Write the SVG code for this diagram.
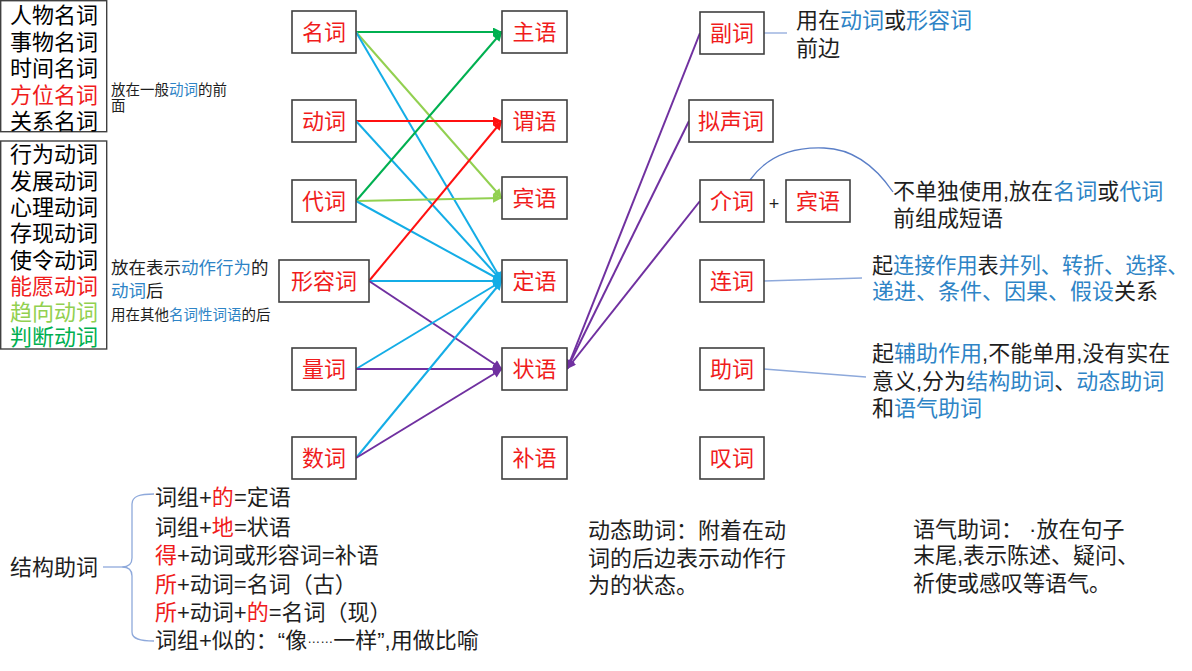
<svg xmlns="http://www.w3.org/2000/svg" width="1192" height="671" viewBox="0 0 1192 671">
<defs>
<style>
text{font-family:"Liberation Sans","Noto Sans CJK SC",sans-serif;fill:#1e1e1e}
.box{fill:#fff;stroke:#404040;stroke-width:1.6}
.lst{fill:#fff;stroke:#404040;stroke-width:1.4}
.lbl{font-size:22px;fill:#f01c1c;text-anchor:middle}
.t22{font-size:22px}
.t14{font-size:14.5px}
.t17{font-size:17.5px}
.b{fill:#2e84c6}
.r{fill:#f01c1c}
.lg{fill:#92d050}
.g{fill:#00b050}
.k{fill:#000}
.cg{stroke:#00b050}
.clg{stroke:#92d050}
.cc{stroke:#14ade6}
.cr{stroke:#ff1010}
.cp{stroke:#7030a0}
.thin{fill:none;stroke:#8ea9db;stroke-width:1.3}
</style>
<marker id="ag" viewBox="0 0 10 10" refX="10" refY="5" markerUnits="userSpaceOnUse" markerWidth="11" markerHeight="9" orient="auto"><path d="M0,0 L10,5 L0,10 z" fill="#00b050"/></marker>
<marker id="alg" viewBox="0 0 10 10" refX="10" refY="5" markerUnits="userSpaceOnUse" markerWidth="11" markerHeight="9" orient="auto"><path d="M0,0 L10,5 L0,10 z" fill="#92d050"/></marker>
<marker id="ac" viewBox="0 0 10 10" refX="10" refY="5" markerUnits="userSpaceOnUse" markerWidth="11" markerHeight="9" orient="auto"><path d="M0,0 L10,5 L0,10 z" fill="#14ade6"/></marker>
<marker id="ar" viewBox="0 0 10 10" refX="10" refY="5" markerUnits="userSpaceOnUse" markerWidth="11" markerHeight="9" orient="auto"><path d="M0,0 L10,5 L0,10 z" fill="#ff1010"/></marker>
<marker id="ap" viewBox="0 0 10 10" refX="10" refY="5" markerUnits="userSpaceOnUse" markerWidth="11" markerHeight="9" orient="auto"><path d="M0,0 L10,5 L0,10 z" fill="#7030a0"/></marker>
</defs>
<rect x="0" y="0" width="1192" height="671" fill="#fff"/>

<g id="list-nouns">
<rect class="lst" x="0.7" y="0.7" width="106" height="131"/>
<text class="t22" x="10" y="23"><tspan class="k">人物名词</tspan></text>
<text class="t22" x="10" y="49.5"><tspan class="k">事物名词</tspan></text>
<text class="t22" x="10" y="76"><tspan class="k">时间名词</tspan></text>
<text class="t22 r" x="10" y="102.5">方位名词</text>
<text class="t22" x="10" y="129"><tspan class="k">关系名词</tspan></text>
</g>
<g id="list-verbs">
<rect class="lst" x="0.7" y="141" width="106" height="208"/>
<text class="t22" x="10" y="162"><tspan class="k">行为动词</tspan></text>
<text class="t22" x="10" y="188.5"><tspan class="k">发展动词</tspan></text>
<text class="t22" x="10" y="215"><tspan class="k">心理动词</tspan></text>
<text class="t22" x="10" y="241"><tspan class="k">存现动词</tspan></text>
<text class="t22" x="10" y="267.5"><tspan class="k">使令动词</tspan></text>
<text class="t22 r" x="10" y="294">能愿动词</text>
<text class="t22 lg" x="10" y="320">趋向动词</text>
<text class="t22 g" x="10" y="345">判断动词</text>
</g>
<g id="note-fangwei">
<text class="t14" x="111" y="94.5">放在一般<tspan class="b">动词</tspan>的前</text>
<text class="t14" x="111" y="111">面</text>
</g>
<g id="note-nengyuan">
<text class="t17" x="111" y="274">放在表示<tspan class="b">动作行为</tspan>的</text>
<text class="t17" x="111" y="297"><tspan class="b">动词</tspan>后</text>
</g>
<g id="note-quxiang">
<text class="t14" x="111" y="320">用在其他<tspan class="b">名词性词语</tspan>的后</text>
</g>

<g id="connectors" fill="none" stroke-width="2">
<line class="cg" x1="356" y1="32" x2="502" y2="32" marker-end="url(#ag)"/>
<line class="clg" x1="356" y1="32" x2="502" y2="198" marker-end="url(#alg)"/>
<line class="cc" x1="356" y1="32" x2="502" y2="281" marker-end="url(#ac)"/>
<line class="cr" x1="356" y1="121" x2="502" y2="121" marker-end="url(#ar)"/>
<line class="cc" x1="356" y1="121" x2="502" y2="281" marker-end="url(#ac)"/>
<line class="cg" x1="356" y1="201" x2="502" y2="32" marker-end="url(#ag)"/>
<line class="clg" x1="356" y1="201" x2="502" y2="198" marker-end="url(#alg)"/>
<line class="cc" x1="356" y1="201" x2="502" y2="281" marker-end="url(#ac)"/>
<line class="cr" x1="369" y1="281" x2="502" y2="121" marker-end="url(#ar)"/>
<line class="cc" x1="369" y1="281" x2="502" y2="281" marker-end="url(#ac)"/>
<line class="cp" x1="369" y1="281" x2="502" y2="369" marker-end="url(#ap)"/>
<line class="cc" x1="356" y1="369" x2="502" y2="281" marker-end="url(#ac)"/>
<line class="cp" x1="356" y1="369" x2="502" y2="369" marker-end="url(#ap)"/>
<line class="cc" x1="356" y1="458" x2="502" y2="281" marker-end="url(#ac)"/>
<line class="cp" x1="356" y1="458" x2="502" y2="369" marker-end="url(#ap)"/>
<line class="cp" x1="700" y1="33" x2="567" y2="369" marker-end="url(#ap)"/>
<line class="cp" x1="689" y1="121" x2="567" y2="369" marker-end="url(#ap)"/>
<line class="cp" x1="700" y1="201" x2="567" y2="369" marker-end="url(#ap)"/>
<line class="thin" x1="764" y1="33" x2="787" y2="33"/>
<path d="M750,180 C770,152 800,147 824,148 C855,149 878,170 893,192" fill="none" stroke="#5b7fc7" stroke-width="1.3"/>
<line class="thin" x1="764" y1="281" x2="862" y2="278"/>
<line class="thin" x1="764" y1="369" x2="866" y2="377"/>
<path class="thin" d="M154,494 C140,494 132,496 132,504 L132,558 C132,565 128,567 122,567 C128,567 132,569 132,576 L132,632 C132,639 140,641 154,641"/>
<line class="thin" x1="103" y1="567" x2="122" y2="567"/>
</g>

<g id="n-mingci"><rect class="box" x="292" y="11" width="64" height="42"/><text class="lbl" x="324" y="40">名词</text></g>
<g id="n-dongci"><rect class="box" x="292" y="100" width="64" height="42"/><text class="lbl" x="324" y="129">动词</text></g>
<g id="n-daici"><rect class="box" x="292" y="180" width="64" height="42"/><text class="lbl" x="324" y="209">代词</text></g>
<g id="n-xingrongci"><rect class="box" x="279" y="260" width="90" height="42"/><text class="lbl" x="324" y="289">形容词</text></g>
<g id="n-liangci"><rect class="box" x="292" y="348" width="64" height="42"/><text class="lbl" x="324" y="377">量词</text></g>
<g id="n-shuci"><rect class="box" x="292" y="437" width="64" height="42"/><text class="lbl" x="324" y="466">数词</text></g>

<g id="n-zhuyu"><rect class="box" x="502" y="11" width="65" height="42"/><text class="lbl" x="534.5" y="40">主语</text></g>
<g id="n-weiyu"><rect class="box" x="502" y="100" width="65" height="42"/><text class="lbl" x="534.5" y="129">谓语</text></g>
<g id="n-binyu"><rect class="box" x="502" y="177" width="65" height="42"/><text class="lbl" x="534.5" y="206">宾语</text></g>
<g id="n-dingyu"><rect class="box" x="502" y="260" width="65" height="42"/><text class="lbl" x="534.5" y="289">定语</text></g>
<g id="n-zhuangyu"><rect class="box" x="502" y="348" width="65" height="42"/><text class="lbl" x="534.5" y="377">状语</text></g>
<g id="n-buyu"><rect class="box" x="502" y="437" width="65" height="42"/><text class="lbl" x="534.5" y="466">补语</text></g>

<g id="n-fuci"><rect class="box" x="700" y="12" width="64" height="42"/><text class="lbl" x="732" y="41">副词</text></g>
<g id="n-nishengci"><rect class="box" x="689" y="100" width="84" height="42"/><text class="lbl" x="731" y="129">拟声词</text></g>
<g id="n-jieci"><rect class="box" x="700" y="180" width="64" height="42"/><text class="lbl" x="732" y="209">介词</text></g>
<g id="plus"><text x="774" y="210" font-size="18" text-anchor="middle" fill="#444">+</text></g>
<g id="n-binyu2"><rect class="box" x="786" y="180" width="64" height="42"/><text class="lbl" x="818" y="209">宾语</text></g>
<g id="n-lianci"><rect class="box" x="700" y="260" width="64" height="42"/><text class="lbl" x="732" y="289">连词</text></g>
<g id="n-zhuci"><rect class="box" x="700" y="348" width="64" height="42"/><text class="lbl" x="732" y="377">助词</text></g>
<g id="n-tanci"><rect class="box" x="700" y="437" width="64" height="42"/><text class="lbl" x="732" y="466">叹词</text></g>

<g id="note-fuci">
<text class="t22" x="796" y="28">用在<tspan class="b">动词</tspan>或<tspan class="b">形容词</tspan></text>
<text class="t22" x="796" y="56">前边</text>
</g>
<g id="note-jieci">
<text class="t22" x="893" y="199">不单独使用,放在<tspan class="b">名词</tspan>或<tspan class="b">代词</tspan></text>
<text class="t22" x="893" y="226">前组成短语</text>
</g>
<g id="note-lianci">
<text x="872" y="273" font-size="21.1">起<tspan class="b">连接作用</tspan>表<tspan class="b">并列、转折、选择、</tspan></text>
<text class="t22" x="872" y="299"><tspan class="b">递进、条件、因果、假设</tspan>关系</text>
</g>
<g id="note-zhuci">
<text class="t22" x="872" y="361">起<tspan class="b">辅助作用</tspan>,不能单用,没有实在</text>
<text class="t22" x="872" y="389">意义,分为<tspan class="b">结构助词</tspan>、<tspan class="b">动态助词</tspan></text>
<text class="t22" x="872" y="416">和<tspan class="b">语气助词</tspan></text>
</g>

<g id="jiegou">
<text class="t22" x="10" y="575">结构助词</text>
<text class="t22" x="155" y="505">词组+<tspan class="r">的</tspan>=定语</text>
<text class="t22" x="155" y="535">词组+<tspan class="r">地</tspan>=状语</text>
<text class="t22" x="155" y="563"><tspan class="r">得</tspan>+动词或形容词=补语</text>
<text class="t22" x="155" y="592"><tspan class="r">所</tspan>+动词=名词（古）</text>
<text class="t22" x="155" y="620"><tspan class="r">所</tspan>+动词+<tspan class="r">的</tspan>=名词（现）</text>
<text class="t22" x="155" y="648">词组+似的：“像<tspan font-size="13" dy="-5">……</tspan><tspan dy="5">一样”,用做比喻</tspan></text>
</g>
<g id="dongtai">
<text class="t22" x="588" y="538">动态助词：附着在动</text>
<text class="t22" x="588" y="566">词的后边表示动作行</text>
<text class="t22" x="588" y="593">为的状态。</text>
</g>
<g id="yuqi">
<text class="t22" x="913" y="537" xml:space="preserve">语气助词： ·放在句子</text>
<text class="t22" x="913" y="563">末尾,表示陈述、疑问、</text>
<text class="t22" x="913" y="591">祈使或感叹等语气。</text>
</g>
</svg>
